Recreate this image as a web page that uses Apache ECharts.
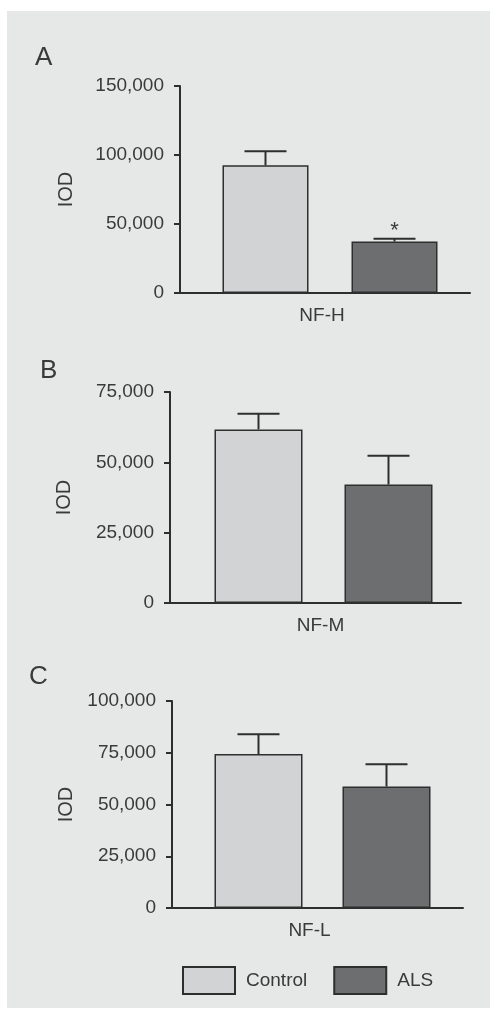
<!DOCTYPE html>
<html>
<head>
<meta charset="utf-8">
<script src="https://cdn.jsdelivr.net/npm/echarts@6/dist/echarts.min.js"></script>
<style>
  html, body { margin: 0; padding: 0; background: #fff; }
  #chart { width: 490px; height: 1010px; }
</style>
</head>
<body>
<div id="chart"></div>
<script>
// groups
const groups = ['Control', 'ALS'];

// panel A - NF-H
const nfhCat = ['NF-H'];
const nfhMean = [92500, 37300];
const nfhSem = [10200, 2100];
const nfhSig = ['', '*'];
const nfhTicks = [0, 50000, 100000, 150000];

// panel B - NF-M
const nfmCat = ['NF-M'];
const nfmMean = [61700, 42100];
const nfmSem = [5600, 10200];
const nfmSig = ['', ''];
const nfmTicks = [0, 25000, 50000, 75000];

// panel C - NF-L
const nflCat = ['NF-L'];
const nflMean = [74400, 58700];
const nflSem = [9500, 10800];
const nflSig = ['', ''];
const nflTicks = [0, 25000, 50000, 75000, 100000];

const FONT = '"Liberation Sans", Arial, sans-serif';
const TXT = '#3a3a3a';
const LINE = '#2e2e2e';
const colors = ['#d2d3d5', '#6d6e70'];

const chart = echarts.init(document.getElementById('chart'));

// layout per panel: visible axes grid, bar shift (dx), bar width / gap
const panels = [
  { cat: nfhCat, mean: nfhMean, sem: nfhSem, sig: nfhSig, ticks: nfhTicks, letter: 'A',
    grid: { left: 180, top: 86, width: 290, height: 207 }, letterPos: [35, 45], nameGap: 104,
    dx: 5, barW: 86, gap: 43, labelDx: -3 },
  { cat: nfmCat, mean: nfmMean, sem: nfmSem, sig: nfmSig, ticks: nfmTicks, letter: 'B',
    grid: { left: 170, top: 392, width: 291, height: 211 }, letterPos: [40, 358], nameGap: 96,
    dx: 8, barW: 88, gap: 42, labelDx: 5 },
  { cat: nflCat, mean: nflMean, sem: nflSem, sig: nflSig, ticks: nflTicks, letter: 'C',
    grid: { left: 172, top: 701, width: 291, height: 207 }, letterPos: [29, 664], nameGap: 96,
    dx: 5, barW: 88, gap: 40, labelDx: -8 }
];

const grids = [], xAxes = [], yAxes = [], series = [], titles = [];

panels.forEach((p, i) => {
  const gAxis = grids.length;
  grids.push(p.grid);
  // hidden grid holding the bars, shifted slightly right like the original
  const gBar = grids.length;
  grids.push({ left: p.grid.left + p.dx, top: p.grid.top, width: p.grid.width, height: p.grid.height });

  titles.push({
    text: p.letter, left: p.letterPos[0], top: p.letterPos[1], padding: 0,
    textStyle: { fontFamily: FONT, fontSize: 26, fontWeight: 'normal', color: TXT }
  });

  const lab = p.labelDx;
  xAxes.push({
    type: 'category', gridIndex: gAxis, data: p.cat,
    axisLine: { lineStyle: { color: LINE, width: 2 } },
    axisTick: { show: false },
    axisLabel: { fontFamily: FONT, fontSize: 19, color: TXT, margin: 13,
      padding: lab >= 0 ? [0, 0, 0, 2 * lab] : [0, -2 * lab, 0, 0] }
  });
  xAxes.push({ type: 'category', gridIndex: gBar, data: p.cat, show: false });

  const yMin = p.ticks[0], yMax = p.ticks[p.ticks.length - 1];
  yAxes.push({
    type: 'value', gridIndex: gAxis,
    min: yMin, max: yMax, interval: p.ticks[1] - p.ticks[0],
    name: 'IOD', nameLocation: 'middle', nameGap: p.nameGap,
    nameTextStyle: { fontFamily: FONT, fontSize: 20, color: TXT },
    splitLine: { show: false },
    axisLine: { show: true, lineStyle: { color: LINE, width: 2 } },
    axisTick: { show: true, length: 6, lineStyle: { color: LINE, width: 2 } },
    axisLabel: {
      fontFamily: FONT, fontSize: 19, color: TXT, margin: 16,
      formatter: v => v.toLocaleString('en-US')
    }
  });
  yAxes.push({ type: 'value', gridIndex: gBar, min: yMin, max: yMax, show: false, splitLine: { show: false } });

  const xi = xAxes.length - 1, yi = yAxes.length - 1;
  groups.forEach((g, k) => {
    series.push({
      name: g, type: 'bar', xAxisIndex: xi, yAxisIndex: yi,
      barWidth: p.barW, barGap: (p.gap / p.barW * 100) + '%',
      data: [p.mean[k]],
      itemStyle: { color: colors[k], borderColor: LINE, borderWidth: 1.5 },
      emphasis: { disabled: true },
      z: 2
    });
  });
  // error bars (upper only) + significance mark
  series.push({
    type: 'custom', xAxisIndex: xi, yAxisIndex: yi, silent: true, z: 3,
    data: groups.map((g, k) => [0, p.mean[k], p.mean[k] + p.sem[k], k]),
    renderItem: (params, api) => {
      const k = api.value(3);
      const off = (k === 0 ? -1 : 1) * (p.barW + p.gap) / 2;
      const base = api.coord([api.value(0), api.value(1)]);
      const top = api.coord([api.value(0), api.value(2)]);
      const x = base[0] + off;
      const half = 21;
      const style = { stroke: LINE, lineWidth: 2 };
      const children = [
        { type: 'line', shape: { x1: x, y1: base[1], x2: x, y2: top[1] }, style },
        { type: 'line', shape: { x1: x - half, y1: top[1], x2: x + half, y2: top[1] }, style }
      ];
      if (p.sig[k]) {
        children.push({
          type: 'text',
          style: { text: p.sig[k], x: x, y: top[1] + 3, align: 'center', verticalAlign: 'bottom',
            fontFamily: FONT, fontSize: 22, fill: TXT }
        });
      }
      return { type: 'group', children };
    }
  });
});

chart.setOption({
  backgroundColor: '#ffffff',
  animation: false,
  graphic: [{
    type: 'rect', z: -10, silent: true,
    shape: { x: 7, y: 11, width: 483, height: 997 },
    style: { fill: '#e6e7e7' }
  }],
  title: titles,
  legend: {
    data: groups, left: 182, top: 966, padding: 0,
    itemWidth: 52, itemHeight: 27, itemGap: 26,
    icon: 'rect',
    textStyle: { fontFamily: FONT, fontSize: 19, color: TXT, padding: [8, 0, 0, 6] },
    selectedMode: false
  },
  grid: grids,
  xAxis: xAxes,
  yAxis: yAxes,
  series: series
});
</script>
</body>
</html>
